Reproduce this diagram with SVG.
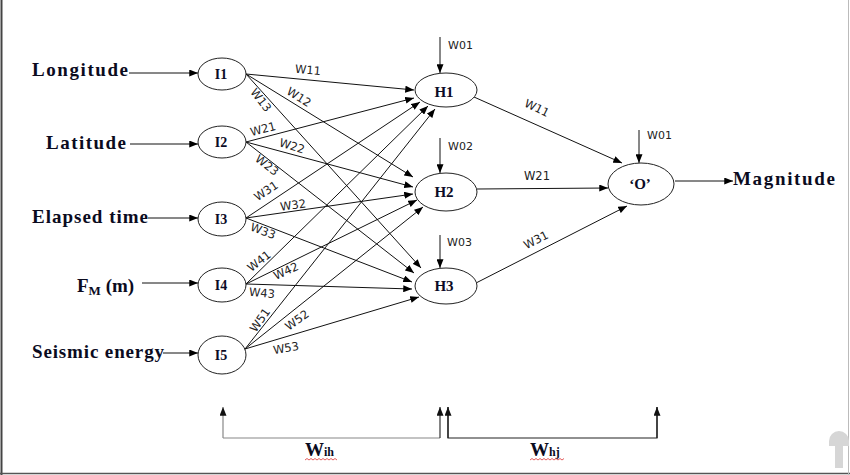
<svg xmlns="http://www.w3.org/2000/svg" width="850" height="475" viewBox="0 0 850 475">
<defs>
<marker id="ah" viewBox="0 0 10 8" refX="10" refY="4" markerWidth="9" markerHeight="7" markerUnits="userSpaceOnUse" orient="auto"><path d="M0,0 L10,4 L0,8 z" fill="#000"/></marker>
<marker id="ahg" viewBox="0 0 10 8" refX="10" refY="4" markerWidth="9" markerHeight="7" markerUnits="userSpaceOnUse" orient="auto"><path d="M0,0 L10,4 L0,8 z" fill="#111"/></marker>
<style>
.node{fill:#fff;stroke:#222;stroke-width:1}
.nl{font-family:"Liberation Serif","Times New Roman",serif;font-weight:bold;fill:#0b0b26;text-anchor:middle}
.in{font-family:"Liberation Serif","Times New Roman",serif;font-weight:bold;font-size:19px;fill:#0b0b1e}
.w{font-family:"DejaVu Sans",sans-serif;font-size:11.5px;fill:#222;text-anchor:middle;dominant-baseline:central}
.wb{font-family:"DejaVu Sans",sans-serif;font-size:11px;fill:#222}
.e{stroke:#111;stroke-width:1;fill:none;marker-end:url(#ah)}
.sq{stroke:#d33;stroke-width:0.8;fill:none}
</style>
</defs>
<rect width="850" height="475" fill="#fff"/>
<!-- frame -->
<line x1="1.5" y1="0" x2="1.5" y2="475" stroke="#444" stroke-width="2"/>
<line x1="0" y1="473.5" x2="850" y2="473.5" stroke="#555" stroke-width="1.5"/>
<line x1="848.5" y1="0" x2="848.5" y2="475" stroke="#bbb" stroke-width="1"/>
<!-- key watermark -->
<g fill="#d6d6d6">
<path d="M829,441 a10,10 0 0 1 20,0 v5 h-20 z"/>
<rect x="835" y="446" width="8" height="22"/>
</g>

<g id="connectors">
<!-- inputs -->
<line class="e" x1="129" y1="73" x2="198" y2="73"/>
<line class="e" x1="130" y1="144" x2="198" y2="144" stroke="#444"/>
<line class="e" x1="148" y1="218" x2="198" y2="218"/>
<line class="e" x1="142" y1="283" x2="198" y2="283"/>
<line class="e" x1="163" y1="353" x2="198" y2="353"/>
<!-- input to hidden -->
<line class="e" x1="246" y1="74" x2="414" y2="90"/>
<line class="e" x1="246" y1="74" x2="413" y2="177"/>
<line class="e" x1="246" y1="74" x2="421" y2="268"/>
<line class="e" x1="246" y1="142" x2="414" y2="98"/>
<line class="e" x1="246" y1="142" x2="413" y2="187"/>
<line class="e" x1="246" y1="142" x2="414" y2="273"/>
<line class="e" x1="246" y1="218" x2="420" y2="102"/>
<line class="e" x1="246" y1="218" x2="413" y2="194"/>
<line class="e" x1="246" y1="218" x2="412" y2="282"/>
<line class="e" x1="246" y1="284" x2="428" y2="106"/>
<line class="e" x1="246" y1="284" x2="417" y2="200"/>
<line class="e" x1="246" y1="284" x2="412" y2="289"/>
<line class="e" x1="245" y1="349" x2="435" y2="109"/>
<line class="e" x1="245" y1="349" x2="423" y2="207"/>
<line class="e" x1="245" y1="349" x2="419" y2="297"/>
<!-- hidden to output -->
<line class="e" x1="474" y1="97" x2="622" y2="163"/>
<line class="e" x1="477" y1="189" x2="608" y2="188"/>
<line class="e" x1="476" y1="283" x2="627" y2="206"/>
<line class="e" x1="675" y1="181" x2="733" y2="181"/>
<!-- biases -->
<line class="e" x1="440" y1="37" x2="440" y2="73"/>
<line class="e" x1="440" y1="138" x2="440" y2="173"/>
<line class="e" x1="440" y1="235" x2="440" y2="268"/>
<line class="e" x1="639" y1="130" x2="639" y2="163"/>
<!-- bottom brackets -->
<polyline points="223,438 440,438" stroke="#888" stroke-width="1.2" fill="none"/>
<line x1="223" y1="438" x2="223" y2="407" stroke="#888" stroke-width="1.2" marker-end="url(#ahg)"/>
<line x1="440" y1="438" x2="440" y2="407" stroke="#333" stroke-width="1.2" marker-end="url(#ahg)"/>
<polyline points="448,407 448,438 657,438 657,407" stroke="#222" stroke-width="1.2" fill="none"/>
<line x1="448" y1="438" x2="448" y2="407" stroke="#222" stroke-width="1.2" marker-end="url(#ahg)"/>
<line x1="657" y1="438" x2="657" y2="407" stroke="#222" stroke-width="1.2" marker-end="url(#ahg)"/>
</g>

<g id="weights">
<text class="w" transform="rotate(5 308 70)" x="308" y="70">W11</text>
<text class="w" transform="rotate(32 299 97)" x="299" y="97">W12</text>
<text class="w" transform="rotate(52 261 100)" x="261" y="100">W13</text>
<text class="w" transform="rotate(-15 263 129)" x="263" y="129">W21</text>
<text class="w" transform="rotate(17 292 146)" x="292" y="146">W22</text>
<text class="w" transform="rotate(38 267 165)" x="267" y="165">W23</text>
<text class="w" transform="rotate(-34 266 191)" x="266" y="191">W31</text>
<text class="w" transform="rotate(-8 293 205)" x="293" y="205">W32</text>
<text class="w" transform="rotate(20 263 231)" x="263" y="231">W33</text>
<text class="w" transform="rotate(-38 259 261)" x="259" y="261">W41</text>
<text class="w" transform="rotate(-24 286 271)" x="286" y="271">W42</text>
<text class="w" transform="rotate(5 262 293)" x="262" y="293">W43</text>
<text class="w" transform="rotate(-55 260 320)" x="260" y="320">W51</text>
<text class="w" transform="rotate(-36 297 320)" x="297" y="320">W52</text>
<text class="w" transform="rotate(-10 286 348)" x="286" y="348">W53</text>
<text class="w" transform="rotate(26 537 108)" x="537" y="108">W11</text>
<text class="w" x="537" y="176">W21</text>
<text class="w" transform="rotate(-27 536 240)" x="536" y="240">W31</text>
<text class="wb" x="448" y="49">W01</text>
<text class="wb" x="448" y="150">W02</text>
<text class="wb" x="447" y="246">W03</text>
<text class="wb" x="647" y="139">W01</text>
</g>

<g id="labels">
<text class="in" x="32" y="76" textLength="96" lengthAdjust="spacing">Longitude</text>
<text class="in" x="46" y="149" textLength="80" lengthAdjust="spacing">Latitude</text>
<text class="in" x="32" y="223" textLength="116" lengthAdjust="spacing">Elapsed time</text>
<text class="in" x="77" y="292" font-size="20">F<tspan font-size="13" dy="3">M</tspan><tspan dy="-3"> (m)</tspan></text>
<text class="in" x="32" y="358" textLength="132" lengthAdjust="spacing">Seismic energy</text>
<text class="in" x="733" y="185" textLength="102" lengthAdjust="spacing">Magnitude</text>
</g>

<g id="I1"><ellipse class="node" cx="222" cy="74" rx="24" ry="16"/><text class="nl" x="221" y="79" font-size="14">I1</text></g>
<g id="I2"><ellipse class="node" cx="222" cy="142" rx="24" ry="16"/><text class="nl" x="221" y="147" font-size="14">I2</text></g>
<g id="I3"><ellipse class="node" cx="222" cy="219" rx="24" ry="17"/><text class="nl" x="221" y="224" font-size="14">I3</text></g>
<g id="I4"><ellipse class="node" cx="222" cy="285" rx="24" ry="17"/><text class="nl" x="221" y="290" font-size="14">I4</text></g>
<g id="I5"><ellipse class="node" cx="222" cy="355" rx="24" ry="19"/><text class="nl" x="221" y="360" font-size="14">I5</text></g>
<g id="H1"><ellipse class="node" cx="446" cy="90" rx="31" ry="17"/><text class="nl" x="444" y="97" font-size="15">H1</text></g>
<g id="H2"><ellipse class="node" cx="446" cy="192" rx="31" ry="19"/><text class="nl" x="444" y="197" font-size="15">H2</text></g>
<g id="H3"><ellipse class="node" cx="446" cy="286" rx="31" ry="18"/><text class="nl" x="444" y="291" font-size="15">H3</text></g>
<g id="O"><ellipse class="node" cx="641" cy="184" rx="33" ry="21"/><text class="nl" x="640" y="189" font-size="15">‘O’</text></g>

<g id="bottom-labels">
<text class="in" x="305" y="456" font-size="18">W<tspan font-size="12">ih</tspan></text>
<text class="in" x="530" y="456" font-size="18">W<tspan font-size="12">hj</tspan></text>
<path class="sq" d="M305,460 l2,-1.5 l2,1.5 l2,-1.5 l2,1.5 l2,-1.5 l2,1.5 l2,-1.5 l2,1.5 l2,-1.5 l2,1.5 l2,-1.5 l2,1.5 l2,-1.5 l2,1.5 l2,-1.5 l2,1.5"/>
<path class="sq" d="M530,460 l2,-1.5 l2,1.5 l2,-1.5 l2,1.5 l2,-1.5 l2,1.5 l2,-1.5 l2,1.5 l2,-1.5 l2,1.5 l2,-1.5 l2,1.5 l2,-1.5 l2,1.5 l2,-1.5 l2,1.5 l2,-1.5"/>
</g>
</svg>
